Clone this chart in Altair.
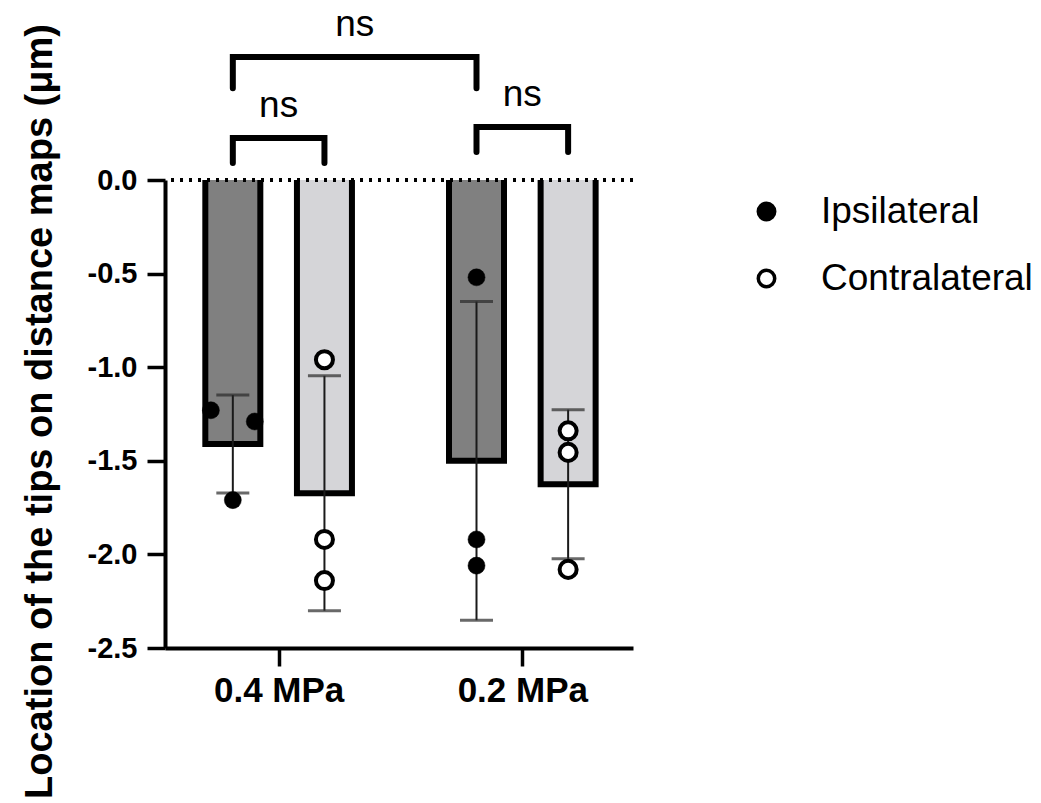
import altair as alt
import pandas as pd

# ---- data ----
groups = ["0.4 MPa", "0.2 MPa"]
sides = ["Ipsilateral", "Contralateral"]

vals_04_ipsi = [-1.23, -1.29, -1.71]
vals_04_contra = [-0.96, -1.92, -2.14]
vals_02_ipsi = [-0.52, -1.92, -2.06]
vals_02_contra = [-1.34, -1.455, -2.08]

jit_04_ipsi = [-1, 1, 0]
jit_04_contra = [0, 0, 0]
jit_02_ipsi = [0, 0, 0]
jit_02_contra = [0, 0, 0]

y_ticks = [0.0, -0.5, -1.0, -1.5, -2.0, -2.5]

# significance brackets
brk_left_group = ["0.4 MPa", "0.2 MPa", "0.4 MPa"]
brk_left_side = ["Ipsilateral", "Ipsilateral", "Ipsilateral"]
brk_right_group = ["0.4 MPa", "0.2 MPa", "0.2 MPa"]
brk_right_side = ["Contralateral", "Contralateral", "Ipsilateral"]
brk_top = [0.224, 0.283, 0.657]
brk_leg = [0.091, 0.150, 0.490]
brk_label = ["ns", "ns", "ns"]

# ---- layout constants ----
SIDE_OFF = 0.188
JIT = 0.09
XDOM = [-0.4458, 1.4337]
FONT = "Liberation Sans"


def xpos(g, s):
    return groups.index(g) + (-SIDE_OFF if s == sides[0] else SIDE_OFF)


rows = []
for g, s, vals, jit in [
    (groups[0], sides[0], vals_04_ipsi, jit_04_ipsi),
    (groups[0], sides[1], vals_04_contra, jit_04_contra),
    (groups[1], sides[0], vals_02_ipsi, jit_02_ipsi),
    (groups[1], sides[1], vals_02_contra, jit_02_contra),
]:
    for v, j in zip(vals, jit):
        rows.append({"group": g, "side": s, "value": v,
                     "xb": xpos(g, s), "xp": xpos(g, s) + j * JIT})
df = pd.DataFrame(rows)

brk_rows = []
brk_txt = []
for i in range(len(brk_top)):
    x1 = xpos(brk_left_group[i], brk_left_side[i])
    x2 = xpos(brk_right_group[i], brk_right_side[i])
    pts = [(x1, brk_leg[i]), (x1, brk_top[i]), (x2, brk_top[i]), (x2, brk_leg[i])]
    for k, (px, py) in enumerate(pts):
        brk_rows.append({"b": i, "o": k, "x": px, "y": py})
    brk_txt.append({"x": (x1 + x2) / 2, "y": brk_top[i], "t": brk_label[i]})
brk_df = pd.DataFrame(brk_rows)
txt_df = pd.DataFrame(brk_txt)

xscale = alt.Scale(domain=XDOM, nice=False, zero=False)
yscale = alt.Scale(domain=[-2.5, 0], nice=False, zero=False)

label_expr = "[" + ",".join("'" + g + "'" for g in groups) + "][datum.value]"

xaxis = alt.Axis(values=[0, 1], labelExpr=label_expr, title=None, grid=False,
                 tickSize=18, tickWidth=3.5, domainWidth=4, labelFontSize=35,
                 labelFontWeight="bold", labelFont=FONT, labelPadding=7,
                 labelColor="black", domainColor="black", tickColor="black")
yaxis = alt.Axis(values=y_ticks, title="Location of the tips on distance maps (μm)",
                 labelExpr="replace(format(datum.value, '.1f'), '\u2212', '-')",
                 grid=False, tickSize=18, tickWidth=3.5, domainWidth=4,
                 labelFontSize=29, labelFontWeight="bold", labelFont=FONT,
                 labelPadding=10, labelColor="black", domainColor="black",
                 tickColor="black", titleFont=FONT, titleFontSize=38,
                 titleFontWeight="bold", titleColor="black", titleAngle=270,
                 titleX=-114, titleY=231, titleAlign="center",
                 titleBaseline="alphabetic")

base = alt.Chart(df)

bars = base.transform_aggregate(
    mean="mean(value)", groupby=["group", "side", "xb"]
).mark_bar(orient="vertical", size=55, stroke="black", strokeWidth=6, clip=True).encode(
    x=alt.X("xb:Q", scale=xscale, axis=xaxis),
    y=alt.Y("mean:Q", scale=yscale, axis=yaxis),
    y2=alt.datum(0.03),
    color=alt.Color("side:N", scale=alt.Scale(domain=sides, range=["#808080", "#d5d5d8"]),
                    legend=None),
)

stats = base.transform_aggregate(
    mean="mean(value)", sd="stdev(value)", groupby=["group", "side", "xb"]
).transform_calculate(lo="datum.mean - datum.sd", hi="datum.mean + datum.sd")

err_rule = stats.mark_rule(color="#1a1a1a", strokeWidth=2).encode(
    x=alt.X("xb:Q", scale=xscale), y=alt.Y("lo:Q", scale=yscale), y2="hi:Q")
err_hi = stats.mark_tick(orient="horizontal", size=33, thickness=3, color="#2a2a2a").encode(
    x=alt.X("xb:Q", scale=xscale), y=alt.Y("hi:Q", scale=yscale))
err_lo = stats.mark_tick(orient="horizontal", size=33, thickness=3, color="#2a2a2a").encode(
    x=alt.X("xb:Q", scale=xscale), y=alt.Y("lo:Q", scale=yscale))

points = base.transform_calculate(ring="datum.side").mark_point(
    shape="circle", size=290, filled=True, stroke="black", opacity=1).encode(
    x=alt.X("xp:Q", scale=xscale),
    y=alt.Y("value:Q", scale=yscale),
    color=alt.Color("side:N", scale=alt.Scale(domain=sides, range=["black", "white"]),
                    legend=alt.Legend(title=None, orient="none", legendX=583, legendY=13,
                                      symbolType="circle", symbolSize=270,
                                      symbolStrokeColor="black", symbolStrokeWidth=3.5,
                                      labelFont=FONT, labelFontSize=37, labelColor="black",
                                      labelLimit=400, labelOffset=36, rowPadding=29,
                                      padding=0)),
    strokeWidth=alt.StrokeWidth("ring:N", scale=alt.Scale(domain=sides, range=[0.5, 4]),
                                legend=None),
)

zero_line = alt.Chart(df).mark_rule(strokeDash=[3, 6], strokeWidth=3, color="black").encode(
    y=alt.datum(0))

brackets = alt.Chart(brk_df).mark_line(strokeWidth=6, color="black", strokeCap="round",
                                       strokeJoin="miter").encode(
    x=alt.X("x:Q", scale=xscale), y=alt.Y("y:Q", scale=yscale),
    detail="b:N", order="o:Q")

ns_text = alt.Chart(txt_df).mark_text(font=FONT, fontSize=37, color="black", dy=-32,
                                      baseline="middle").encode(
    x=alt.X("x:Q", scale=xscale), y=alt.Y("y:Q", scale=yscale), text="t:N")

chart = alt.layer(bars, err_rule, err_hi, err_lo, points, zero_line, brackets, ns_text).resolve_scale(
    color="independent"
).properties(
    width=468, height=468,
    autosize=alt.AutoSizeParams(type="none"),
    padding={"left": 157, "top": 172, "right": 400, "bottom": 155},
).configure_view(stroke=None)

chart.save("out.html", embed_options={"renderer": "svg", "actions": False})
